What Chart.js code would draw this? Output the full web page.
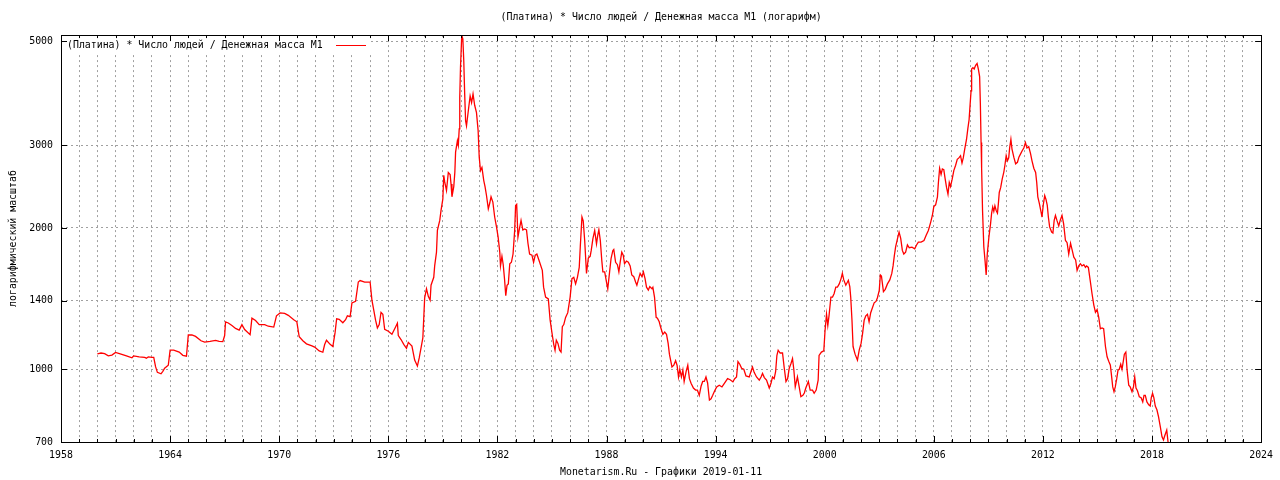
<!DOCTYPE html>
<html>
<head>
<meta charset="utf-8">
<script src="https://cdn.jsdelivr.net/npm/chart.js@4/dist/chart.umd.min.js"></script>
<style>
  html, body { margin: 0; padding: 0; background: #fff; }
  canvas { display: block; }
</style>
</head>
<body>
<canvas id="chart" width="1280" height="480"></canvas>
<script>
// Series: (Platinum) * population / M1 (decimal years)
const dates = [
  1960.0, 1960.2, 1960.4, 1960.6, 1960.8, 1961.0, 1961.3, 1961.6, 1961.9, 1962.0, 1962.3, 1962.6, 1962.7, 1962.8,
  1963.0, 1963.1, 1963.2, 1963.3, 1963.5, 1963.6, 1963.7, 1963.9, 1964.0, 1964.2, 1964.5, 1964.7, 1964.9,
  1965.0, 1965.2, 1965.4, 1965.7, 1965.9, 1966.2, 1966.5, 1966.7, 1966.9, 1967.0, 1967.05, 1967.2, 1967.4,
  1967.6, 1967.8, 1967.95, 1968.1, 1968.4, 1968.5, 1968.7, 1968.9, 1969.2, 1969.4, 1969.7, 1969.85,
  1970.05, 1970.3, 1970.5, 1970.8, 1970.97, 1971.1, 1971.3, 1971.5, 1971.8, 1971.95, 1972.2, 1972.4,
  1972.5, 1972.6, 1972.8, 1972.95, 1973.07, 1973.16, 1973.3, 1973.5, 1973.65, 1973.75, 1973.9, 1974.0,
  1974.2, 1974.35, 1974.45, 1974.7, 1975.0, 1975.1, 1975.3, 1975.4, 1975.5, 1975.6, 1975.7, 1975.8,
  1976.0, 1976.2, 1976.4, 1976.5, 1976.55, 1976.7, 1976.85, 1977.0, 1977.1, 1977.3, 1977.45, 1977.6,
  1977.7, 1977.9, 1978.0, 1978.1, 1978.2, 1978.3, 1978.35, 1978.5, 1978.55, 1978.65, 1978.7, 1978.83,
  1978.9, 1979.0, 1979.05, 1979.1, 1979.2, 1979.3, 1979.4, 1979.45, 1979.5, 1979.6, 1979.66, 1979.7,
  1979.8, 1979.85, 1979.9, 1979.93, 1979.97, 1980.04, 1980.1, 1980.15, 1980.2, 1980.25, 1980.3, 1980.4,
  1980.5, 1980.58, 1980.66, 1980.75, 1980.85, 1980.94, 1981.0, 1981.07, 1981.15, 1981.25, 1981.32, 1981.4,
  1981.5, 1981.58, 1981.65, 1981.75, 1981.85, 1981.95, 1982.04, 1982.13, 1982.17, 1982.25, 1982.32,
  1982.39, 1982.46, 1982.53, 1982.6, 1982.68, 1982.77, 1982.86, 1982.95, 1983.0, 1983.06, 1983.13,
  1983.2, 1983.3, 1983.4, 1983.5, 1983.6, 1983.68, 1983.77, 1983.9, 1983.99, 1984.08, 1984.17, 1984.3,
  1984.47, 1984.54, 1984.65, 1984.8, 1984.9, 1985.0, 1985.1, 1985.17, 1985.24, 1985.33, 1985.42, 1985.5,
  1985.57, 1985.65, 1985.75, 1985.87, 1986.0, 1986.1, 1986.2, 1986.3, 1986.4, 1986.5, 1986.56, 1986.65,
  1986.72, 1986.8, 1986.9, 1987.0, 1987.1, 1987.16, 1987.25, 1987.35, 1987.45, 1987.52, 1987.58, 1987.66,
  1987.74, 1987.8, 1987.9, 1988.0, 1988.07, 1988.17, 1988.25, 1988.35, 1988.4, 1988.5, 1988.6, 1988.68,
  1988.76, 1988.84, 1988.92, 1988.99, 1989.1, 1989.2, 1989.3, 1989.39, 1989.5, 1989.6, 1989.67, 1989.75,
  1989.85, 1989.95, 1990.03, 1990.12, 1990.2, 1990.3, 1990.38, 1990.5, 1990.55, 1990.64, 1990.73, 1990.8,
  1990.9, 1990.97, 1991.1, 1991.2, 1991.3, 1991.39, 1991.46, 1991.6, 1991.7, 1991.8, 1991.88, 1991.96,
  1992.03, 1992.12, 1992.2, 1992.27, 1992.38, 1992.47, 1992.56, 1992.65, 1992.78, 1992.9, 1993.0, 1993.1,
  1993.2, 1993.29, 1993.38, 1993.47, 1993.56, 1993.66, 1993.75, 1993.84, 1993.95, 1994.06, 1994.2, 1994.35,
  1994.5, 1994.66, 1994.8, 1994.95, 1995.05, 1995.15, 1995.23, 1995.33, 1995.43, 1995.55, 1995.67, 1995.85,
  1995.95, 1996.03, 1996.12, 1996.25, 1996.4, 1996.5, 1996.58, 1996.68, 1996.8, 1996.95, 1997.05, 1997.13,
  1997.22, 1997.3, 1997.37, 1997.44, 1997.55, 1997.68, 1997.77, 1997.87, 1997.96, 1998.05, 1998.15, 1998.23,
  1998.3, 1998.38, 1998.5, 1998.58, 1998.69, 1998.8, 1998.88, 1998.96, 1999.1, 1999.2, 1999.33, 1999.42,
  1999.53, 1999.64, 1999.69, 1999.82, 1999.95, 2000.02, 2000.1, 2000.17, 2000.24, 2000.34, 2000.43, 2000.52,
  2000.61, 2000.7, 2000.8, 2000.9, 2000.97, 2001.05, 2001.16, 2001.3, 2001.38, 2001.43, 2001.5, 2001.56,
  2001.67, 2001.8, 2001.9, 2002.0, 2002.08, 2002.17, 2002.26, 2002.35, 2002.44, 2002.53, 2002.62, 2002.72,
  2002.82, 2002.9, 2003.0, 2003.06, 2003.12, 2003.23, 2003.33, 2003.45, 2003.58, 2003.69, 2003.76, 2003.83,
  2003.9, 2004.0, 2004.09, 2004.18, 2004.27, 2004.35, 2004.45, 2004.55, 2004.65, 2004.8, 2004.95, 2005.05,
  2005.15, 2005.3, 2005.46, 2005.58, 2005.7, 2005.83, 2005.92, 2006.0, 2006.1, 2006.2, 2006.25, 2006.32,
  2006.4, 2006.47, 2006.55, 2006.62, 2006.7, 2006.78, 2006.85, 2006.92, 2007.01, 2007.1, 2007.2, 2007.29,
  2007.38, 2007.47, 2007.55, 2007.62, 2007.7, 2007.8, 2007.87, 2007.94, 2008.0, 2008.05, 2008.08, 2008.15,
  2008.22, 2008.3, 2008.38, 2008.45, 2008.52, 2008.56, 2008.6, 2008.63, 2008.68, 2008.75, 2008.82, 2008.88,
  2008.94, 2009.03, 2009.12, 2009.18, 2009.24, 2009.3, 2009.36, 2009.43, 2009.5, 2009.55, 2009.6, 2009.68,
  2009.76, 2009.85, 2009.91, 2009.98, 2010.05, 2010.12, 2010.17, 2010.24, 2010.3, 2010.4, 2010.5, 2010.6,
  2010.68, 2010.78, 2010.86, 2010.95, 2011.04, 2011.12, 2011.22, 2011.32, 2011.4, 2011.5, 2011.6, 2011.66,
  2011.72, 2011.8, 2011.91, 2011.95, 2012.02, 2012.1, 2012.17, 2012.24, 2012.3, 2012.37, 2012.48, 2012.55,
  2012.62, 2012.69, 2012.78, 2012.87, 2012.96, 2013.05, 2013.14, 2013.24, 2013.33, 2013.42, 2013.52, 2013.6,
  2013.7, 2013.8, 2013.88, 2013.97, 2014.06, 2014.15, 2014.25, 2014.34, 2014.4, 2014.5, 2014.6, 2014.7,
  2014.8, 2014.89, 2014.98, 2015.07, 2015.16, 2015.25, 2015.34, 2015.44, 2015.53, 2015.62, 2015.71, 2015.76,
  2015.84, 2015.91, 2015.98, 2016.06, 2016.13, 2016.2, 2016.28, 2016.35, 2016.42, 2016.48, 2016.56, 2016.63,
  2016.72, 2016.8, 2016.9, 2016.98, 2017.05, 2017.12, 2017.2, 2017.3, 2017.4, 2017.49, 2017.56, 2017.63,
  2017.72, 2017.82, 2017.9, 2017.96, 2018.03, 2018.1, 2018.18, 2018.27, 2018.36, 2018.46, 2018.55, 2018.63,
  2018.7, 2018.81, 2018.9
];
const values = [
  1079, 1083, 1080, 1068, 1072, 1086, 1077, 1068, 1058, 1068, 1063, 1060, 1056, 1063,
  1060, 1060, 1013, 985, 978, 990, 1005, 1020, 1098, 1098, 1088, 1071, 1066,
  1183, 1183, 1175, 1150, 1143, 1147, 1152, 1147, 1145, 1180, 1262, 1255, 1239,
  1222, 1212, 1245, 1215, 1185, 1285, 1270, 1245, 1245, 1235, 1230, 1300,
  1318, 1315, 1303, 1275, 1262, 1173, 1150, 1133, 1122, 1115, 1094, 1087,
  1129, 1153, 1130, 1118, 1195, 1281, 1278, 1256, 1275, 1300, 1295, 1385,
  1395, 1534, 1545, 1534, 1534, 1403, 1272, 1225, 1245, 1322, 1310, 1217,
  1205, 1187, 1230, 1253, 1180, 1157, 1130, 1108, 1141, 1120, 1046, 1016,
  1057, 1166, 1420, 1484, 1430, 1403, 1510, 1570, 1660, 1776, 1976, 2075,
  2179, 2307, 2590, 2510, 2403, 2625, 2600, 2480, 2330, 2450, 2630, 2900,
  3069, 3000, 3250, 3790, 4390, 5150, 5050, 4540, 3860, 3384, 3300, 3554,
  3820, 3700, 3860, 3650, 3520, 3223, 2830, 2650, 2690, 2523, 2450, 2345,
  2197, 2260, 2330, 2270, 2110, 2010, 1912, 1776, 1660, 1740, 1670,
  1560, 1435, 1510, 1520, 1678, 1690, 1760, 1976, 2233, 2245, 1912,
  1980, 2075, 1980, 1990, 1980, 1855, 1760, 1750, 1690, 1750, 1760, 1700,
  1624, 1496, 1425, 1412, 1272, 1196, 1129, 1098, 1153, 1135, 1098, 1088,
  1232, 1245, 1290, 1320, 1425, 1560, 1570, 1520, 1570, 1648, 1830, 2110,
  2070, 1881, 1600, 1726, 1740, 1791, 1896, 1976, 1850, 1930, 1983, 1880,
  1706, 1612, 1612, 1534, 1484, 1612, 1720, 1791, 1800, 1690, 1670, 1612,
  1700, 1776, 1750, 1678, 1700, 1690, 1660, 1588, 1575, 1534, 1510, 1550,
  1600, 1575, 1612, 1560, 1496, 1475, 1500, 1484, 1495, 1425, 1290, 1285,
  1262, 1232, 1187, 1200, 1187, 1135, 1077, 1011, 1020, 1043, 1020, 963,
  1000, 963, 996, 942, 990, 1020, 955, 934, 912, 903, 903, 880,
  920, 942, 942, 963, 935, 860, 865, 880, 900, 917, 925, 917,
  935, 955, 950, 940, 955, 963, 1038, 1025, 1005, 1000, 968, 963,
  990, 1011, 985, 963, 948, 963, 980, 960, 948, 912, 935, 963,
  955, 988, 1070, 1098, 1083, 1083, 1010, 942, 955, 1005, 1030, 1054,
  1000, 917, 963, 925, 874, 880, 890, 912, 942, 903, 903, 889,
  903, 948, 1070, 1088, 1095, 1211, 1310, 1240, 1303, 1425, 1425, 1450,
  1496, 1496, 1520, 1560, 1600, 1550, 1510, 1547, 1500, 1425, 1272, 1118,
  1077, 1046, 1100, 1135, 1190, 1272, 1300, 1310, 1262, 1320, 1350, 1385,
  1395, 1420, 1473, 1588, 1580, 1464, 1480, 1520, 1550, 1600, 1660, 1746,
  1823, 1896, 1960, 1900, 1791, 1760, 1775, 1840, 1815, 1820, 1806, 1840,
  1866, 1866, 1881, 1930, 1976, 2058, 2126, 2220, 2240, 2330, 2490, 2680,
  2600, 2670, 2660, 2550, 2440, 2360, 2500, 2450, 2540, 2650, 2720, 2800,
  2820, 2850, 2750, 2820, 2945, 3090, 3250, 3400, 3680, 3920, 4360, 4390,
  4360, 4440, 4480, 4360, 4200, 3680, 3040, 2680, 2179, 1823, 1700, 1588,
  1760, 1912, 2040, 2150, 2215, 2170, 2230, 2179, 2150, 2250, 2380, 2440,
  2540, 2630, 2720, 2850, 2780, 2820, 2960, 3090, 2945, 2830, 2740, 2760,
  2830, 2880, 2920, 2960, 3040, 2960, 2980, 2880, 2780, 2680, 2625, 2500,
  2330, 2260, 2150, 2110, 2240, 2345, 2300, 2233, 2110, 2010, 1960, 1950,
  2075, 2126, 2070, 2020, 2080, 2126, 2040, 1881, 1860, 1760, 1855, 1800,
  1733, 1710, 1624, 1660, 1678, 1660, 1670, 1648, 1660, 1648, 1547, 1450,
  1370, 1322, 1340, 1290, 1220, 1225, 1220, 1118, 1063, 1040, 1020, 980,
  917, 896, 917, 955, 996, 1000, 1025, 1000, 1040, 1077, 1088, 996,
  925, 917, 896, 917, 963, 912, 900, 874, 870, 852, 880, 880,
  852, 840, 835, 870, 889, 870, 835, 820, 792, 753, 718, 707,
  722, 742, 690
];

// Axis ticks
const yTicks = [700, 1000, 1400, 2000, 3000, 5000];
const xMin = 1958;
const xMax = 2024;
const xLabelStep = 6;

const FONT = "'DejaVu Sans Mono', 'Liberation Mono', monospace";
const FSIZE = 9.9;
const GRID = '#a0a0a0';

const titleText = '(Платина) * Число людей / Денежная масса M1 (логарифм)';
const legendText = '(Платина) * Число людей / Денежная масса M1';

// Frame, inward tick marks and the in-plot legend (gnuplot style)
const framePlugin = {
  id: 'frame',
  beforeDatasetsDraw(chart) {
    const { ctx, chartArea: a } = chart;
    ctx.save();
    ctx.fillStyle = '#fff';
    ctx.fillRect(a.left + 1, a.top + 1, 370 - a.left, 17);
    ctx.restore();
  },
  afterDatasetsDraw(chart) {
    const { ctx, chartArea: a, scales } = chart;
    ctx.save();
    ctx.strokeStyle = '#000';
    ctx.lineWidth = 1;
    ctx.beginPath();
    for (let yr = xMin; yr <= xMax; yr++) {
      const x = Math.round(scales.x.getPixelForValue(yr)) + 0.5;
      const len = (yr - xMin) % xLabelStep === 0 ? 6 : 3;
      ctx.moveTo(x, a.bottom); ctx.lineTo(x, a.bottom - len);
      ctx.moveTo(x, a.top); ctx.lineTo(x, a.top + len);
    }
    yTicks.forEach(v => {
      const y = Math.round(scales.y.getPixelForValue(v)) + 0.5;
      ctx.moveTo(a.left, y); ctx.lineTo(a.left + 6, y);
      ctx.moveTo(a.right, y); ctx.lineTo(a.right - 6, y);
    });
    ctx.stroke();
    ctx.strokeRect(Math.round(a.left) + 0.5, Math.round(a.top) + 0.5,
      Math.round(a.right - a.left), Math.round(a.bottom - a.top));

    // legend
    ctx.font = FSIZE + 'px ' + FONT;
    ctx.fillStyle = '#000';
    ctx.textBaseline = 'middle';
    ctx.textAlign = 'left';
    ctx.fillText(legendText, a.left + 6, a.top + 10);
    ctx.strokeStyle = '#ff0000';
    ctx.beginPath();
    ctx.moveTo(336, Math.round(a.top + 10) + 0.5);
    ctx.lineTo(366, Math.round(a.top + 10) + 0.5);
    ctx.stroke();
    ctx.restore();
  }
};

const config = {
  type: 'line',
  data: {
    datasets: [{
      label: legendText,
      data: dates.map((d, i) => ({ x: d, y: values[i] })),
      borderColor: '#ff0000',
      borderWidth: 1.3,
      pointRadius: 0,
      tension: 0,
      fill: false
    }]
  },
  options: {
    responsive: false,
    animation: false,
    devicePixelRatio: 1,
    layout: { padding: { left: 0, right: 17, top: 0, bottom: 0 } },
    plugins: {
      legend: { display: false },
      tooltip: { enabled: false },
      title: {
        display: true,
        fullSize: false,
        text: titleText,
        color: '#000',
        font: { family: FONT, size: FSIZE, weight: 'normal' },
        padding: { top: 11, bottom: 12.2 }
      }
    },
    scales: {
      x: {
        type: 'linear',
        min: xMin,
        max: xMax,
        afterBuildTicks: (s) => {
          const t = [];
          for (let yr = xMin; yr <= xMax; yr++) t.push({ value: yr });
          s.ticks = t;
        },
        afterFit: (s) => { s.height = 38; },
        ticks: {
          autoSkip: false,
          maxRotation: 0,
          padding: 7,
          color: '#000',
          font: { family: FONT, size: FSIZE },
          callback: (v) => ((v - xMin) % xLabelStep === 0 ? String(v) : '')
        },
        grid: { color: GRID, lineWidth: 1, drawTicks: false },
        border: { display: false, dash: [2, 3] },
        title: {
          display: true,
          text: 'Monetarism.Ru - Графики 2019-01-11',
          color: '#000',
          font: { family: FONT, size: FSIZE },
          padding: { top: 0, bottom: 1.2 }
        }
      },
      y: {
        type: 'logarithmic',
        min: 700,
        max: 5150,
        afterBuildTicks: (s) => { s.ticks = yTicks.map(v => ({ value: v })); },
        afterFit: (s) => { s.width = 61; },
        ticks: {
          autoSkip: false,
          padding: 8,
          color: '#000',
          font: { family: FONT, size: FSIZE },
          callback: (v) => String(v)
        },
        grid: { color: GRID, lineWidth: 1, drawTicks: false },
        border: { display: false, dash: [2, 3] },
        title: {
          display: true,
          text: 'логарифмический масштаб',
          color: '#000',
          font: { family: FONT, size: FSIZE },
          padding: { top: 7, bottom: 0 }
        }
      }
    }
  },
  plugins: [framePlugin]
};

const chart = new Chart(document.getElementById('chart'), config);
</script>
</body>
</html>
